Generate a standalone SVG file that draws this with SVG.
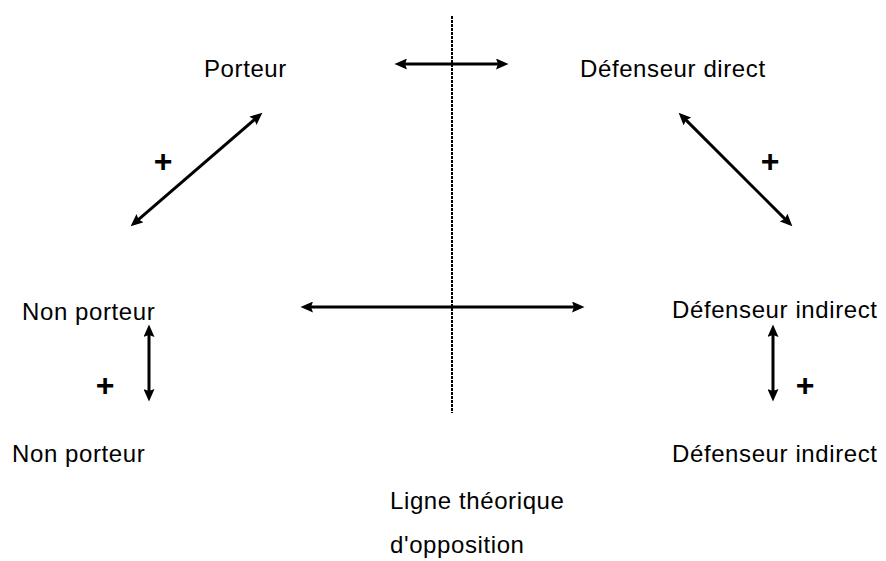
<svg xmlns="http://www.w3.org/2000/svg" width="886" height="561" viewBox="0 0 886 561">
<style>
.lbl{font-family:"Liberation Sans",Arial,sans-serif;font-size:24px;letter-spacing:0.6px;fill:#000}
.plus{font-family:"Liberation Sans",Arial,sans-serif;font-size:32px;font-weight:bold;fill:#000;text-anchor:middle}
.arr{stroke:#000;stroke-width:3;fill:none;marker-start:url(#ah);marker-end:url(#ah)}
</style>
<defs>
<marker id="ah" markerUnits="userSpaceOnUse" markerWidth="13" markerHeight="11" viewBox="0 0 13 11" refX="8" refY="5.5" orient="auto-start-reverse">
<path d="M0,0 L12.5,5.5 L0,11 L2,5.5 z" fill="#000"/>
</marker>
</defs>
<rect width="886" height="561" fill="#fff"/>
<g id="opposition-line">
<line x1="452" y1="16" x2="452" y2="413" stroke="#000" stroke-width="2" stroke-dasharray="3,1"/>
</g>
<g id="connectors">
<line class="arr" x1="399" y1="64" x2="504" y2="64"/>
<line class="arr" x1="258.97" y1="115.61" x2="134.03" y2="223.39"/>
<line class="arr" x1="681.83" y1="115.83" x2="789.17" y2="223.17"/>
<line class="arr" x1="305" y1="307" x2="580" y2="307"/>
<line class="arr" x1="149" y1="329" x2="149" y2="397"/>
<line class="arr" x1="773" y1="329" x2="773" y2="397"/>
</g>
<g id="porteur"><text class="lbl" x="204" y="77">Porteur</text></g>
<g id="defenseur-direct"><text class="lbl" x="580" y="77">Défenseur direct</text></g>
<g id="non-porteur-1"><text class="lbl" x="22" y="320">Non porteur</text></g>
<g id="defenseur-indirect-1"><text class="lbl" x="672" y="318">Défenseur indirect</text></g>
<g id="non-porteur-2"><text class="lbl" x="12" y="462">Non porteur</text></g>
<g id="defenseur-indirect-2"><text class="lbl" x="672" y="462">Défenseur indirect</text></g>
<g id="ligne-label">
<text class="lbl" x="390" y="509">Ligne théorique</text>
<text class="lbl" x="390" y="553">d'opposition</text>
</g>
<g id="plus-signs">
<text class="plus" x="163" y="172">+</text>
<text class="plus" x="770" y="172">+</text>
<text class="plus" x="105" y="396">+</text>
<text class="plus" x="805" y="396">+</text>
</g>
</svg>
